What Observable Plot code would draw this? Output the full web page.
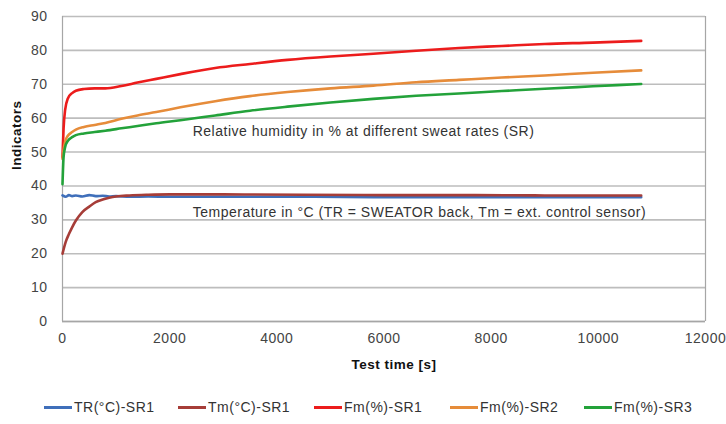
<!DOCTYPE html>
<html>
<head>
<meta charset="utf-8">
<script src="https://cdn.jsdelivr.net/npm/d3@7"></script>
<script src="https://cdn.jsdelivr.net/npm/@observablehq/plot@0.6"></script>
<style>
  html, body { margin: 0; padding: 0; background: #fff; }
  body { width: 726px; height: 424px; overflow: hidden; font-family: "Liberation Sans", Arial, sans-serif; }
  svg text { letter-spacing: 0.5px; }
  #legend { position: relative; height: 34px; width: 726px; font-size: 14px; letter-spacing: 0.5px; color: #333; }
  .li { position: absolute; top: 9px; display: flex; align-items: center; }
  .sw { width: 28px; height: 3px; margin-right: 2px; }
</style>
</head>
<body>
<div id="chart"></div>
<div id="legend"></div>
<script>
const seriesNames = ["TR(°C)-SR1", "Tm(°C)-SR1", "Fm(%)-SR1", "Fm(%)-SR2", "Fm(%)-SR3"];
const seriesColors = ["#3f6fba", "#a63d38", "#ec1c1c", "#e68c3a", "#23a23a"];

const tTemp = [0, 60, 120, 180, 250, 370, 500, 620, 750, 870, 1000, 1250, 1600, 2000, 3000, 4500, 6000, 7500, 9000, 10800];
const trSR1 = [37.2, 36.8, 37.3, 37.0, 37.2, 36.9, 37.3, 37.0, 37.1, 36.9, 37.0, 36.8, 36.9, 36.8, 36.8, 36.8, 36.7, 36.7, 36.7, 36.7];
const tmSR1 = [20.0, 23.5, 25.8, 27.8, 29.8, 32.3, 33.9, 35.2, 36.0, 36.5, 36.9, 37.2, 37.4, 37.5, 37.5, 37.4, 37.3, 37.3, 37.2, 37.2];

const tHum = [0, 20, 50, 100, 180, 250, 400, 600, 800, 1100, 1400, 1750, 2200, 2850, 3500, 4200, 5000, 5800, 6600, 7400, 8200, 9000, 9900, 10800];
const fmSR1 = [48.5, 57, 62.5, 65.8, 67.4, 68.1, 68.6, 68.8, 68.8, 69.5, 70.5, 71.6, 73.0, 74.8, 76.0, 77.2, 78.2, 79.0, 79.9, 80.7, 81.3, 81.9, 82.3, 82.8];
const fmSR2 = [48, 50.8, 53.2, 54.8, 55.9, 56.6, 57.4, 58, 58.6, 59.8, 60.8, 61.8, 63.2, 65.0, 66.5, 67.7, 68.8, 69.6, 70.6, 71.3, 72.0, 72.6, 73.4, 74.1];
const fmSR3 = [40.5, 48.5, 51.5, 53.3, 54.4, 55, 55.5, 55.9, 56.3, 57.0, 57.7, 58.5, 59.4, 60.8, 62.2, 63.4, 64.6, 65.7, 66.6, 67.3, 68.0, 68.7, 69.4, 70.1];

const xTicks = [0, 2000, 4000, 6000, 8000, 10000, 12000];
const yTicks = [0, 10, 20, 30, 40, 50, 60, 70, 80, 90];

const notes = [
  {x: 2430, y: 56.1, text: "Relative humidity in % at different sweat rates (SR)"},
  {x: 2430, y: 32.2, text: "Temperature in °C (TR = SWEATOR back, Tm = ext. control sensor)"}
];

const toRows = (ts, vs, name) => ts.map((t, i) => ({t, v: vs[i], s: name}));
const rows = [
  ...toRows(tTemp, trSR1, seriesNames[0]),
  ...toRows(tTemp, tmSR1, seriesNames[1]),
  ...toRows(tHum, fmSR1, seriesNames[2]),
  ...toRows(tHum, fmSR2, seriesNames[3]),
  ...toRows(tHum, fmSR3, seriesNames[4])
];

const chart = Plot.plot({
  width: 726,
  height: 390,
  marginLeft: 62,
  marginRight: 21,
  marginTop: 16,
  marginBottom: 69,
  style: {fontFamily: "Liberation Sans, Arial, sans-serif", fontSize: "14px", color: "#444", background: "#fff"},
  x: {domain: [0, 12000], label: null},
  y: {domain: [0, 90], label: null},
  color: {domain: seriesNames, range: seriesColors},
  marks: [
    Plot.ruleY(yTicks, {stroke: "#bdbdbd", strokeWidth: 1.6}),
    Plot.ruleX([0, 12000], {stroke: "#a6a6a6", strokeWidth: 1.2}),
    Plot.ruleY([0], {stroke: "#a6a6a6", strokeWidth: 1.6}),
    Plot.axisX({ticks: xTicks, tickFormat: d3.format("d"), tickSize: 0, tickPadding: 12, fill: "#444", fontSize: 14, label: null}),
    Plot.axisY({ticks: yTicks, tickFormat: d3.format("d"), tickSize: 0, tickPadding: 15, fill: "#444", fontSize: 14, label: null}),
    Plot.line(rows, {x: "t", y: "v", z: "s", stroke: "s", strokeWidth: 2.6, curve: "monotone-x"}),
    Plot.text(notes, {x: "x", y: "y", text: "text", textAnchor: "start", fill: "#333", fontSize: 14}),
    Plot.text(["Test time [s]"], {frameAnchor: "bottom", dx: 10, dy: 47, fontWeight: "bold", fontSize: 13.5, fill: "#111"}),
    Plot.text(["Indicators"], {frameAnchor: "left", dx: -46, dy: 1, rotate: -90, fontWeight: "bold", fontSize: 13.5, fill: "#111"})
  ]
});
document.getElementById("chart").appendChild(chart);

const legendX = [44, 178, 314, 450, 584];
const legend = document.getElementById("legend");
seriesNames.forEach((n, i) => {
  const d = document.createElement("div");
  d.className = "li";
  d.style.left = legendX[i] + "px";
  d.innerHTML = `<span class="sw" style="background:${seriesColors[i]}"></span><span>${n}</span>`;
  legend.appendChild(d);
});
</script>
</body>
</html>
